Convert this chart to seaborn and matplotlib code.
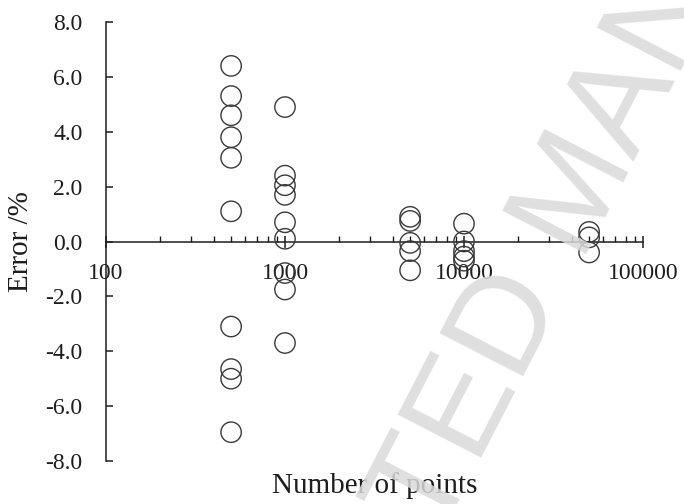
import numpy as np
import pandas as pd
import matplotlib
matplotlib.use("Agg")
import matplotlib.pyplot as plt
from matplotlib.ticker import FixedLocator, FuncFormatter, FormatStrFormatter, LogLocator, NullFormatter
import seaborn as sns

# Error (%) measured for each sample size
n_points = [500, 1000, 5000, 10000, 50000]
err_500 = [6.4, 5.3, 4.6, 3.8, 3.05, 1.1, -3.1, -4.65, -5.0, -6.95]
err_1000 = [4.9, 2.4, 2.05, 1.7, 0.7, 0.1, -1.15, -1.75, -3.7]
err_5000 = [0.9, 0.75, -0.05, -0.35, -1.05]
err_10000 = [0.65, 0.0, -0.35, -0.55, -0.7]
err_50000 = [0.35, 0.15, -0.4]

x_ticks = [100, 1000, 10000, 100000]
y_ticks = [-8, -6, -4, -2, 0, 2, 4, 6, 8]

groups = [err_500, err_1000, err_5000, err_10000, err_50000]
df = pd.DataFrame({
    "n": np.concatenate([[n] * len(g) for n, g in zip(n_points, groups)]),
    "err": np.concatenate(groups),
})

sns.set_theme(style="white")
plt.rcParams["font.family"] = ["Liberation Serif", "DejaVu Serif"]
plt.rcParams["axes.unicode_minus"] = False

fig = plt.figure(figsize=(6.84, 5.04), dpi=100)
ax = fig.add_axes([106 / 684, 1 - 461 / 504, (643 - 106) / 684, (461 - 22) / 504])

ink = "#1e1e1e"
sns.scatterplot(data=df, x="n", y="err", ax=ax, marker="o", s=215,
                facecolor="none", edgecolor="#3a3a3a", linewidth=1.0, zorder=3)

ax.set_xscale("log")
ax.set_xlim(100, 100000)
ax.set_ylim(-8, 8)

# spines: y-axis on the left, x-axis through zero
ax.spines["top"].set_visible(False)
ax.spines["right"].set_visible(False)
ax.spines["bottom"].set_position(("data", 0))
for sp in ("left", "bottom"):
    ax.spines[sp].set_color(ink)
    ax.spines[sp].set_linewidth(1.1)

ax.xaxis.set_major_locator(FixedLocator(x_ticks))
ax.xaxis.set_major_formatter(FuncFormatter(lambda v, p: f"{int(round(v))}"))
ax.xaxis.set_minor_locator(LogLocator(base=10, subs=np.arange(2, 10)))
ax.xaxis.set_minor_formatter(NullFormatter())
ax.yaxis.set_major_locator(FixedLocator(y_ticks))
ax.yaxis.set_major_formatter(FormatStrFormatter("%.1f"))

ax.tick_params(axis="x", which="major", direction="inout", length=9, width=1.1,
               color=ink, labelsize=17, labelcolor=ink, pad=11, bottom=True)
ax.tick_params(axis="x", which="minor", direction="in", length=4, width=1.0,
               color=ink, bottom=True)
ax.tick_params(axis="y", which="major", direction="in", length=5, width=1.1,
               color=ink, labelsize=17, labelcolor=ink, pad=17, left=True)

ax.set_xlabel("Number of points", fontsize=21, color=ink)
ax.set_ylabel("Error /%", fontsize=21, color=ink)
ax.xaxis.set_label_coords(0.5, -0.025)
ax.yaxis.set_label_coords(-0.135, 0.5)
ax.grid(False)

# diagonal watermark over the plot
fig.text(610 / 684, 1 - 209 / 504, "ACCEPTED MANUSCRIPT", fontsize=99,
         family=["Liberation Sans", "DejaVu Sans"], color="#dadada", alpha=0.85,
         rotation=62.7, rotation_mode="anchor", ha="center", va="baseline", zorder=10)

fig.savefig("out.png", dpi=100)
